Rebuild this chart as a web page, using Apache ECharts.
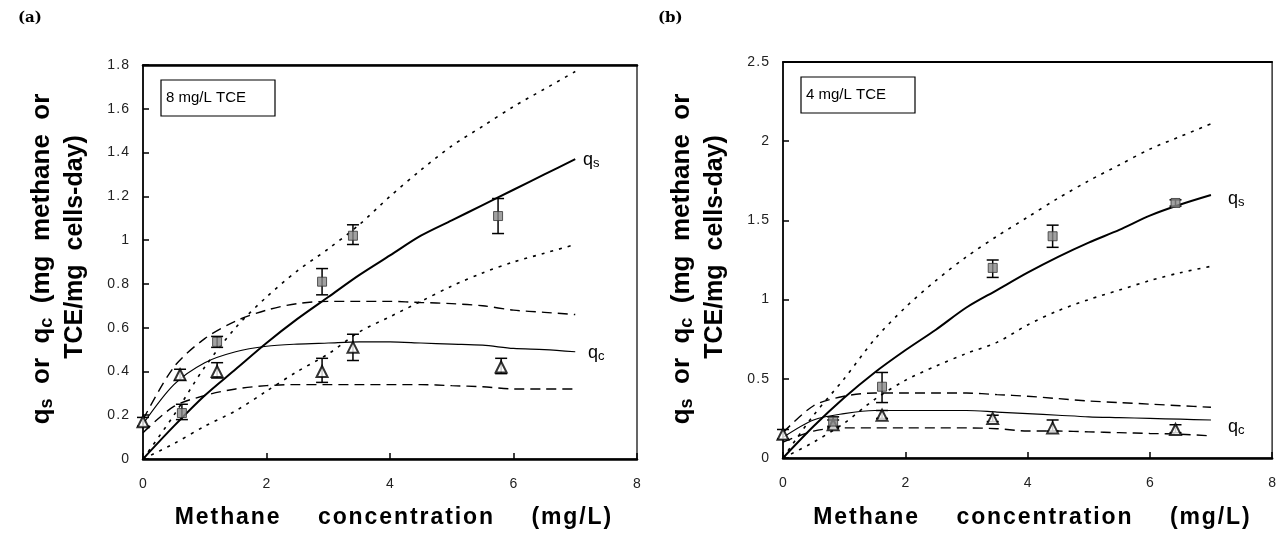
<!DOCTYPE html>
<html>
<head>
<meta charset="utf-8">
<script src="https://cdn.jsdelivr.net/npm/echarts@6/dist/echarts.min.js"></script>
<style>
  html, body { margin: 0; padding: 0; background: #fff; }
  #main { width: 1279px; height: 533px; }
</style>
</head>
<body>
<div id="main"></div>
<script>
// methane concentration (mg/L) at which the model curves are read
var xCurve = [0, 0.5, 1, 1.5, 2, 2.5, 3, 3.5, 4, 4.5, 5, 5.5, 6, 6.5, 7];
var xTicks = [0, 2, 4, 6, 8];

// (a) 8 mg/L TCE
var aQsFit  = [0, 0.15, 0.29, 0.41, 0.53, 0.64, 0.74, 0.84, 0.93, 1.02, 1.09, 1.16, 1.23, 1.30, 1.37];
var aQsHigh = [0, 0.20, 0.42, 0.60, 0.74, 0.86, 0.96, 1.07, 1.20, 1.32, 1.43, 1.52, 1.61, 1.69, 1.77];
var aQsLow  = [0, 0.07, 0.15, 0.22, 0.31, 0.40, 0.48, 0.58, 0.65, 0.72, 0.79, 0.85, 0.90, 0.94, 0.98];
var aQcFit  = [0.16, 0.34, 0.44, 0.49, 0.515, 0.525, 0.53, 0.535, 0.535, 0.53, 0.525, 0.52, 0.505, 0.50, 0.49];
var aQcHigh = [0.18, 0.42, 0.55, 0.63, 0.68, 0.71, 0.72, 0.72, 0.72, 0.715, 0.71, 0.70, 0.68, 0.67, 0.66];
var aQcLow  = [0.12, 0.24, 0.29, 0.32, 0.335, 0.34, 0.34, 0.34, 0.34, 0.34, 0.335, 0.33, 0.32, 0.32, 0.32];

var aSqX  = [0.63, 1.2, 2.9, 3.4, 5.75];
var aSqY  = [0.21, 0.535, 0.81, 1.02, 1.11];
var aSqLo = [0.18, 0.51, 0.75, 0.98, 1.03];
var aSqHi = [0.25, 0.56, 0.87, 1.07, 1.19];
var aTrX  = [0, 0.6, 1.2, 2.9, 3.4, 5.8];
var aTrY  = [0.17, 0.385, 0.40, 0.40, 0.51, 0.42];
var aTrLo = [0.15, 0.36, 0.37, 0.35, 0.45, 0.39];
var aTrHi = [0.19, 0.41, 0.44, 0.46, 0.57, 0.46];

// (b) 4 mg/L TCE
var bQsFit  = [0, 0.20, 0.38, 0.54, 0.68, 0.81, 0.95, 1.06, 1.17, 1.27, 1.36, 1.44, 1.53, 1.60, 1.66];
var bQsHigh = [0, 0.27, 0.50, 0.75, 0.95, 1.12, 1.27, 1.40, 1.52, 1.64, 1.75, 1.85, 1.95, 2.03, 2.11];
var bQsLow  = [0, 0.10, 0.22, 0.37, 0.49, 0.58, 0.66, 0.73, 0.84, 0.93, 1.00, 1.06, 1.12, 1.17, 1.21];
var bQcFit  = [0.13, 0.24, 0.28, 0.30, 0.30, 0.30, 0.30, 0.29, 0.28, 0.27, 0.26, 0.255, 0.25, 0.245, 0.24];
var bQcHigh = [0.16, 0.33, 0.39, 0.41, 0.41, 0.41, 0.41, 0.40, 0.39, 0.375, 0.36, 0.35, 0.34, 0.33, 0.32];
var bQcLow  = [0.10, 0.17, 0.19, 0.19, 0.19, 0.19, 0.19, 0.185, 0.17, 0.17, 0.165, 0.16, 0.155, 0.15, 0.14];

var bSqX  = [0.82, 1.62, 3.43, 4.41, 6.42];
var bSqY  = [0.23, 0.45, 1.20, 1.40, 1.61];
var bSqLo = [0.20, 0.35, 1.14, 1.33, 1.59];
var bSqHi = [0.26, 0.54, 1.25, 1.47, 1.63];
var bTrX  = [0, 0.82, 1.62, 3.43, 4.41, 6.42];
var bTrY  = [0.15, 0.21, 0.27, 0.25, 0.19, 0.18];
var bTrLo = [0.12, 0.19, 0.25, 0.23, 0.17, 0.16];
var bTrHi = [0.18, 0.24, 0.30, 0.27, 0.24, 0.21];

var font = 'Liberation Sans, Arial, sans-serif';
var triangle = 'path://M0,10L5,0L10,10Z';

function zip(xs, ys) {
    return xs.map(function (x, i) { return [x, ys[i]]; });
}

// the scanned titles are letter-spaced; hair spaces between letters mimic it
function spaced(s) {
    return s.split('').join('\u200A');
}

function curve(idx, ys, width, dash) {
    return {
        type: 'line', xAxisIndex: idx, yAxisIndex: idx,
        data: zip(xCurve, ys), smooth: 0.3, showSymbol: false, silent: true,
        lineStyle: { color: '#000', width: width, type: dash }
    };
}

function errorBars(idx, xs, lo, hi) {
    return {
        type: 'custom', xAxisIndex: idx, yAxisIndex: idx, silent: true, z: 3,
        data: xs.map(function (x, i) { return [x, lo[i], hi[i]]; }),
        renderItem: function (params, api) {
            var top = api.coord([api.value(0), api.value(2)]);
            var bot = api.coord([api.value(0), api.value(1)]);
            var s = { stroke: '#000', lineWidth: 1.5 };
            return {
                type: 'group', children: [
                    { type: 'line', shape: { x1: top[0], y1: top[1], x2: bot[0], y2: bot[1] }, style: s },
                    { type: 'line', shape: { x1: top[0] - 6, y1: top[1], x2: top[0] + 6, y2: top[1] }, style: s },
                    { type: 'line', shape: { x1: bot[0] - 6, y1: bot[1], x2: bot[0] + 6, y2: bot[1] }, style: s }
                ]
            };
        }
    };
}

function points(idx, xs, ys, symbol) {
    var sq = symbol === 'rect';
    return {
        type: 'scatter', xAxisIndex: idx, yAxisIndex: idx, z: 4, silent: true,
        data: zip(xs, ys), symbol: symbol, symbolSize: sq ? 9 : 11,
        itemStyle: sq ? { color: '#8a8a8a', borderColor: '#333', borderWidth: 1 }
                      : { color: '#fff', borderColor: '#000', borderWidth: 2 }
    };
}

function panelSeries(idx, d) {
    return [
        curve(idx, d.qsHigh, 1.6, [3, 6]),
        curve(idx, d.qsLow, 1.6, [3, 6]),
        curve(idx, d.qsFit, 2, 'solid'),
        curve(idx, d.qcHigh, 1.4, [10, 6]),
        curve(idx, d.qcLow, 1.4, [10, 6]),
        curve(idx, d.qcFit, 1.2, 'solid'),
        errorBars(idx, d.sqX, d.sqLo, d.sqHi),
        errorBars(idx, d.trX, d.trLo, d.trHi),
        points(idx, d.trX, d.trY, triangle),
        points(idx, d.sqX, d.sqY, 'rect')
    ];
}

function xAxisFor(idx) {
    return [{
        type: 'value', gridIndex: idx, min: 0, max: 8, interval: 2,
        axisLine: { lineStyle: { color: '#000', width: 2.5 } },
        axisTick: { inside: true, length: 6, lineStyle: { color: '#000', width: 1.5 } },
        axisLabel: { fontFamily: font, fontSize: 14, color: '#222', margin: 18,
                     formatter: function (v) { return xTicks.indexOf(v) >= 0 ? String(v) : ''; } },
        splitLine: { show: false }
    }, {
        type: 'value', gridIndex: idx, position: 'top', min: 0, max: 8,
        axisLine: { lineStyle: { color: '#000', width: idx === 0 ? 2.5 : 1.8 } },
        axisTick: { show: false }, axisLabel: { show: false }, splitLine: { show: false }
    }];
}

function yAxisFor(idx, max, step) {
    return {
        type: 'value', gridIndex: idx, min: 0, max: max, interval: step,
        axisLine: { show: true, lineStyle: { color: '#000', width: 1.5 } },
        axisTick: { show: true, inside: true, length: 6, lineStyle: { color: '#000', width: 1.5 } },
        axisLabel: { fontFamily: font, fontSize: 14, color: '#222', margin: 14,
                     formatter: function (v) { return spaced(String(v)); } },
        splitLine: { show: false }
    };
}

var subRich = {
    b: { fontFamily: font, fontWeight: 'bold', fontSize: 26, color: '#000' },
    s: { fontFamily: font, fontWeight: 'bold', fontSize: 18, color: '#000', padding: [10, 0, 0, 0] }
};
var qRich = {
    q: { fontFamily: font, fontSize: 18, color: '#000' },
    s: { fontFamily: font, fontSize: 13, color: '#000', padding: [6, 0, 0, 0] }
};

function panelGraphics(left, top, right, tag, boxText) {
    return [
        { type: 'text', left: left - 125, top: 11,
          style: { text: tag, font: 'bold 15px "DejaVu Serif", serif', fill: '#000' } },
        { type: 'text', x: left - 101, y: 259, rotation: Math.PI / 2,
          style: { text: '{b|q}{s|s}{b|  or  q}{s|c}{b|  (mg  methane  or}', rich: subRich,
                   align: 'center', verticalAlign: 'middle' } },
        { type: 'text', x: left - 68, y: 247, rotation: Math.PI / 2,
          style: { text: 'TCE/mg  cells-day)', font: 'bold 25px ' + font, fill: '#000',
                   align: 'center', verticalAlign: 'middle' } },
        { type: 'text', x: (left + right) / 2 + 3, y: 518,
          style: { text: spaced('Methane') + '      ' + spaced('concentration') + '      ' + spaced('(mg/L)'),
                   font: 'bold 23px ' + font, fill: '#000', align: 'center', verticalAlign: 'middle' } },
        { type: 'rect', shape: { x: left + 18, y: top + 15, width: 114, height: 36 },
          style: { fill: '#fff', stroke: '#000', lineWidth: 1.2 } },
        { type: 'text', x: left + 23, y: top + 33,
          style: { text: boxText, font: '15px ' + font, fill: '#000', verticalAlign: 'middle' } }
    ];
}

var chart = echarts.init(document.getElementById('main'));

var option = {
    animation: false,
    backgroundColor: '#fff',
    grid: [
        { left: 143, top: 65, width: 494, height: 394, show: true, borderColor: '#000', borderWidth: 1.2 },
        { left: 783, top: 62, width: 491, height: 396, show: true, borderColor: '#000', borderWidth: 1.2 }
    ],
    xAxis: xAxisFor(0).concat(xAxisFor(1)),
    yAxis: [yAxisFor(0, 1.8, 0.2), yAxisFor(1, 2.5, 0.5)],
    series: [],
    graphic: []
};
// each grid has a bottom x axis and a top border axis: indices 0,1 -> grid 0; 2,3 -> grid 1
var aSeries = panelSeries(0, {
    qsFit: aQsFit, qsHigh: aQsHigh, qsLow: aQsLow, qcFit: aQcFit, qcHigh: aQcHigh, qcLow: aQcLow,
    sqX: aSqX, sqY: aSqY, sqLo: aSqLo, sqHi: aSqHi, trX: aTrX, trY: aTrY, trLo: aTrLo, trHi: aTrHi
});
var bSeries = panelSeries(1, {
    qsFit: bQsFit, qsHigh: bQsHigh, qsLow: bQsLow, qcFit: bQcFit, qcHigh: bQcHigh, qcLow: bQcLow,
    sqX: bSqX, sqY: bSqY, sqLo: bSqLo, sqHi: bSqHi, trX: bTrX, trY: bTrY, trLo: bTrLo, trHi: bTrHi
});
bSeries.forEach(function (s) { s.xAxisIndex = 2; });
option.series = aSeries.concat(bSeries);

option.graphic = panelGraphics(143, 65, 637, '(a)', '8 mg/L TCE')
    .concat(panelGraphics(783, 62, 1274, '(b)', '4 mg/L TCE'))
    .concat([
        { type: 'text', x: 583, y: 160, style: { text: '{q|q}{s|s}', rich: qRich, verticalAlign: 'middle' } },
        { type: 'text', x: 588, y: 353, style: { text: '{q|q}{s|c}', rich: qRich, verticalAlign: 'middle' } },
        { type: 'text', x: 1228, y: 199, style: { text: '{q|q}{s|s}', rich: qRich, verticalAlign: 'middle' } },
        { type: 'text', x: 1228, y: 427, style: { text: '{q|q}{s|c}', rich: qRich, verticalAlign: 'middle' } }
    ]);

chart.setOption(option);
</script>
</body>
</html>
